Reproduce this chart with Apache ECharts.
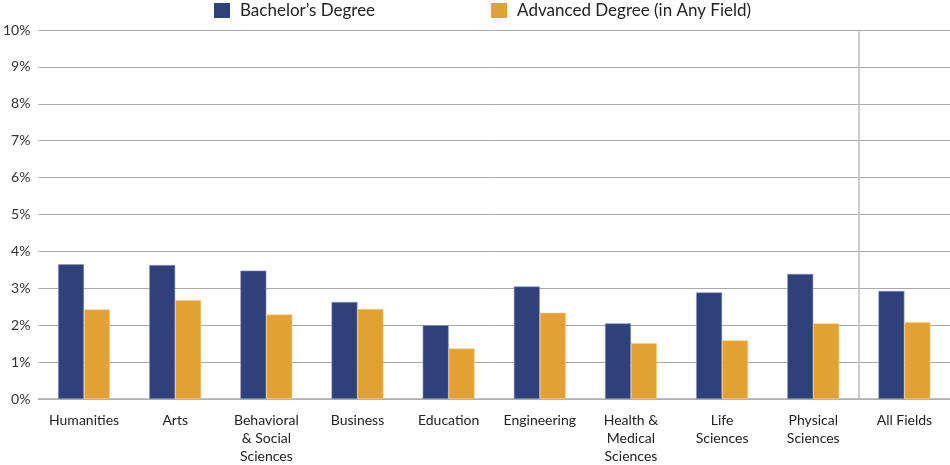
<!DOCTYPE html>
<html>
<head>
<meta charset="utf-8">
<script src="https://cdn.jsdelivr.net/npm/echarts@6/dist/echarts.min.js"></script>
<style>html,body{margin:0;padding:0;background:#fff}#c{width:950px;height:465px}</style>
</head>
<body>
<div id="c"></div>
<script>
const categories = ["Humanities", "Arts", "Behavioral\n& Social\nSciences", "Business", "Education", "Engineering", "Health &\nMedical\nSciences", "Life\nSciences", "Physical\nSciences", "All Fields"];
const bachelors = [3.65, 3.63, 3.48, 2.63, 2.0, 3.05, 2.05, 2.89, 3.39, 2.93];
const advanced = [2.43, 2.68, 2.29, 2.44, 1.37, 2.34, 1.51, 1.59, 2.05, 2.08];
const seriesNames = ["Bachelor\u2019s Degree", "Advanced Degree (in Any Field)"];
const dividerPosition = 9; // boundary between "Physical Sciences" and "All Fields"

const FONT = "Lato";
const chart = echarts.init(document.getElementById('c'));
chart.setOption({
  animation: false,
  textStyle: { fontFamily: FONT },
  legend: {
    left: 209, top: -3,
    itemWidth: 16, itemHeight: 15,
    itemGap: 116,
    icon: 'rect',
    itemStyle: { borderWidth: 0 },
    textStyle: { fontSize: 17, color: '#222', fontFamily: FONT, padding: [0,0,0,5] },
    data: seriesNames
  },
  grid: { left: 33, right: 0, top: 30, bottom: 63, containLabel: false },
  xAxis: [{
    type: 'category',
    data: categories,
    axisLine: { show: true, lineStyle: { color: '#b0b0b0', width: 1.5 } },
    axisTick: { show: false },
    axisLabel: { fontSize: 14, color: '#222', lineHeight: 18, margin: 12, interval: 0, fontFamily: FONT },
    splitLine: { show: false }
  }, {
    type: 'value', min: 0, max: 10, show: false,
    splitLine: { show: false }
  }],
  yAxis: {
    type: 'value', min: 0, max: 10, interval: 1,
    axisLabel: { formatter: '{value}%', fontSize: 14, color: '#333', margin: 8, fontFamily: FONT },
    axisLine: { show: false }, axisTick: { show: false },
    splitLine: { lineStyle: { color: '#aaaaaa', width: 1 } }
  },
  series: [
    { name: seriesNames[0], type: 'bar', data: bachelors, barGap: '0%', barCategoryGap: '43%',
      itemStyle: { color: '#2f417a', borderColor: '#8e97b8', borderWidth: 0.6 } },
    { name: seriesNames[1], type: 'bar', data: advanced,
      itemStyle: { color: '#e4a133', borderColor: '#f3d29a', borderWidth: 0.6 } },
    { name: 'divider', type: 'line', xAxisIndex: 1, data: [], silent: true,
      markLine: { symbol: 'none', silent: true, label: { show: false },
        lineStyle: { color: '#bdbdbd', width: 1.5, type: 'solid' },
        data: [{ xAxis: dividerPosition }] } }
  ]
});
</script>
</body>
</html>
